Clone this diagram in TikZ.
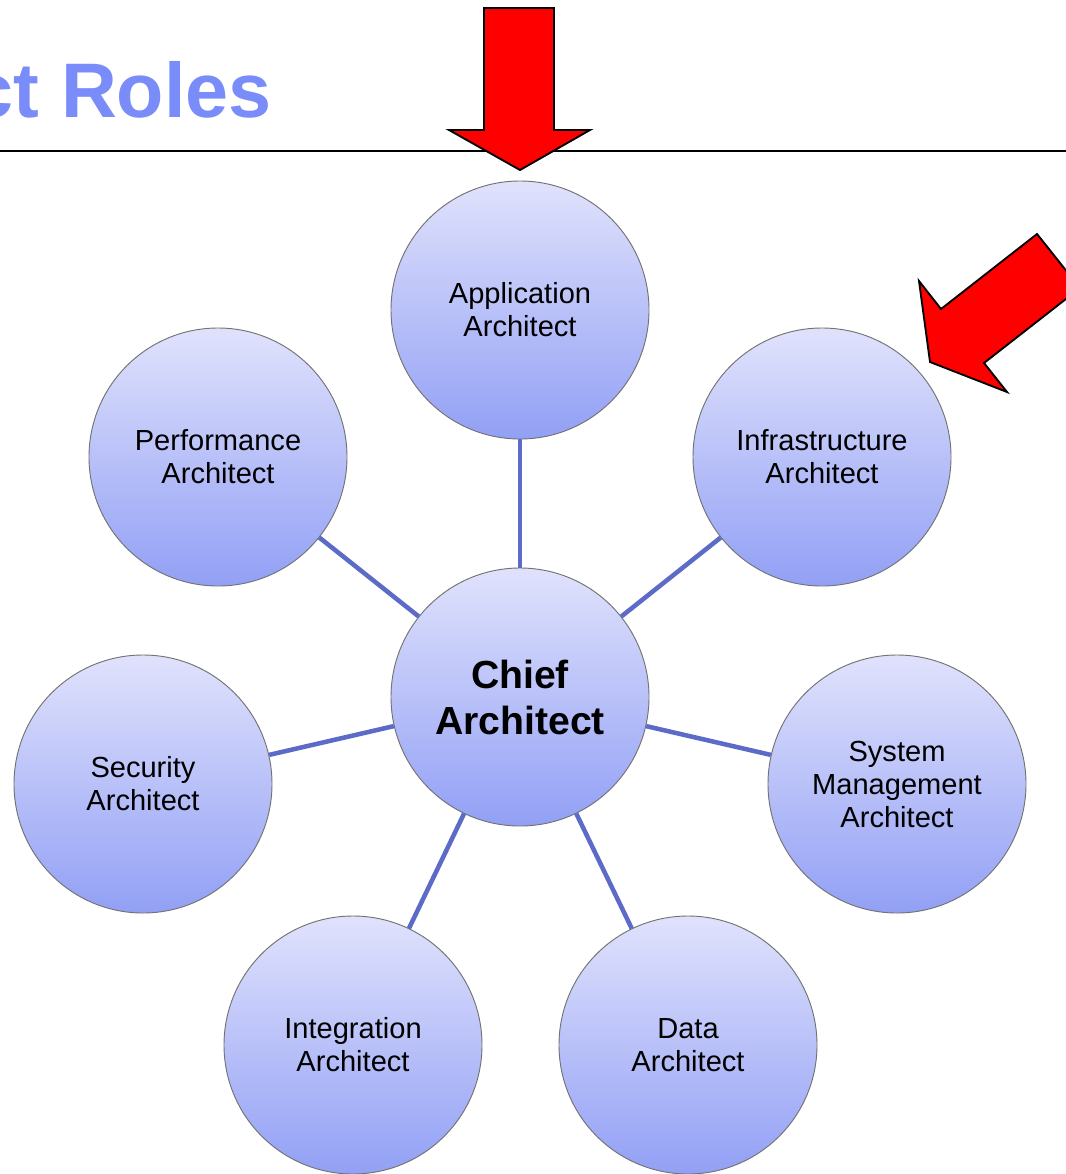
\documentclass[tikz,border=0pt]{standalone}
\usepackage{fontspec}
\setmainfont{Liberation Sans}
\definecolor{circtop}{RGB}{224,226,252}
\definecolor{circbot}{RGB}{146,160,245}
\definecolor{linkc}{RGB}{92,106,200}
\definecolor{titlec}{RGB}{122,140,250}
\begin{document}
\begin{tikzpicture}[x=0.75pt,y=-0.75pt,
  role/.style={circle, minimum size=193.5pt, inner sep=0pt, draw=black!55, line width=0.7pt,
    top color=circtop, bottom color=circbot, align=center,
    font=\fontsize{21.8pt}{24.75pt}\selectfont,
    execute at begin node={\rule{0pt}{20.5pt}}},
  chief/.style={role, font=\bfseries\fontsize{29.4pt}{34.5pt}\selectfont,
    execute at begin node={\rule{0pt}{24pt}}},
  link/.style={draw=linkc, line width=3.4pt},
  redarrow/.style={fill=red, draw=black, line width=1.4pt, line join=miter},
  rule/.style={draw=black, line width=2.2pt}]
\useasboundingbox (0,0) rectangle (1066,1174);
\clip (0,0) rectangle (1066,1174);
\fill[white] (0,0) rectangle (1066,1174);
% title
\node[anchor=base east, inner sep=0pt, text=titlec,
  font=\bfseries\fontsize{58pt}{60pt}\selectfont] (title) at (272,117) {ct Roles};
\coordinate (ruleL) at (0,151);
\coordinate (ruleR) at (1066,151);
\draw[rule] (ruleL) -- (ruleR);
% nodes
\node[role]  (app)   at (520,310)  {Application\\Architect};
\node[role]  (perf)  at (218,457)  {Performance\\Architect};
\node[role]  (infra) at (822,457)  {Infrastructure\\Architect};
\node[chief] (chief) at (520,697)  {Chief\\Architect};
\node[role]  (sec)   at (143,784)  {Security\\Architect};
\node[role]  (sys)   at (897,784)  {System\\Management\\Architect};
\node[role]  (integ) at (353,1045) {Integration\\Architect};
\node[role]  (data)  at (688,1045) {Data\\Architect};
% links
\foreach \n in {app,perf,infra,sec,sys,integ,data}
  \draw[link] (chief) -- (\n);
% red arrows
\draw[redarrow] (484,8) -- (554,8) -- (554,130) -- (590,130) -- (520,170)
  -- (449,130) -- (484,130) -- cycle;
\draw[redarrow] (930,362) -- (919,281) -- (941,309) -- (1037,234) -- (1080,288)
  -- (984,363) -- (1007,392) -- cycle;
\end{tikzpicture}
\end{document}
